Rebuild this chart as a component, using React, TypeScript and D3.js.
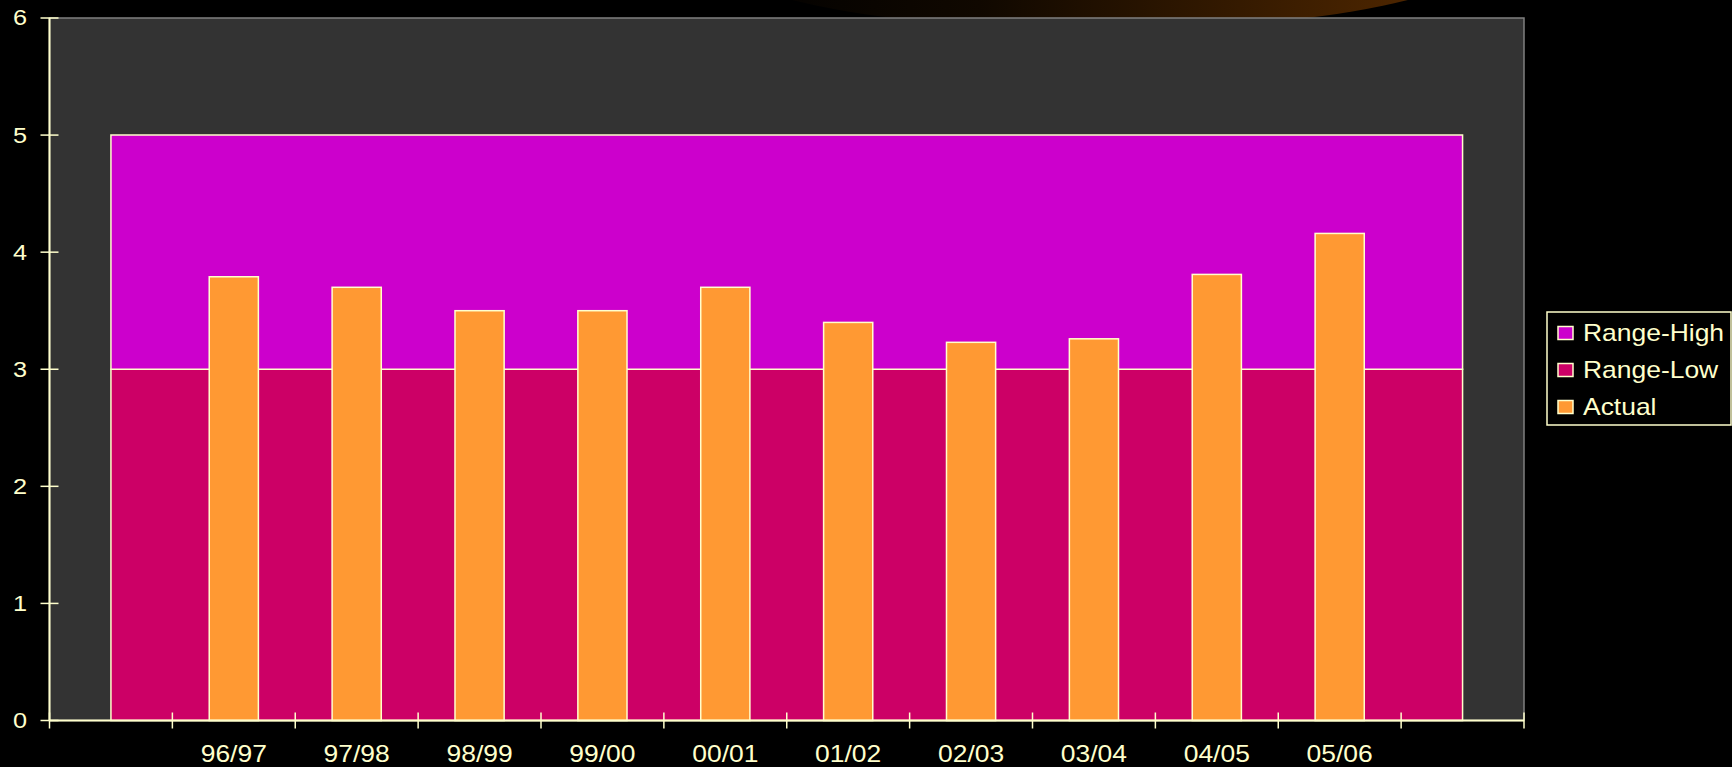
import React from 'react';
import * as d3 from 'd3';

const categories = ['', '96/97', '97/98', '98/99', '99/00', '00/01', '01/02', '02/03', '03/04', '04/05', '05/06', ''];
const rangeLow = [3, 3, 3, 3, 3, 3, 3, 3, 3, 3, 3, 3];
const rangeHigh = [2, 2, 2, 2, 2, 2, 2, 2, 2, 2, 2, 2];
const actual = [null, 3.79, 3.7, 3.5, 3.5, 3.7, 3.4, 3.23, 3.26, 3.81, 4.16, null];
const yTicks = [0, 1, 2, 3, 4, 5, 6];
const legendItems = [
  { name: 'Range-High', color: '#CC00CC' },
  { name: 'Range-Low', color: '#CC0066' },
  { name: 'Actual', color: '#FF9933' },
];

const W = 1732;
const H = 767;
const plot = { left: 49.5, right: 1524, top: 18, bottom: 720.5 };
const ink = '#FFFFCC';
const font = '"Liberation Sans", Arial, sans-serif';
const sx = 1.15; // the source chart is stretched sideways a little

const App: React.FC = () => {
  const x = d3.scaleBand<number>()
    .domain(categories.map((_, i) => i))
    .range([plot.left, plot.right])
    .padding(0);
  const y = d3.scaleLinear().domain([0, 6]).range([plot.bottom, plot.top]);
  const bw = x.bandwidth();
  const cx = (i: number) => (x(i) as number) + bw / 2;

  const rows = categories.map((_, i) => ({ i, low: rangeLow[i], high: rangeHigh[i] }));
  const stacked = d3.stack<{ i: number; low: number; high: number }>().keys(['low', 'high'])(rows);

  const area = d3.area<d3.SeriesPoint<{ i: number; low: number; high: number }>>()
    .x(d => cx(d.data.i))
    .y0(d => y(d[0]))
    .y1(d => y(d[1]));

  const barW = bw / 2.5;

  const stretched = (px: number, py: number) =>
    `translate(${px},${py}) scale(${sx},1) translate(${-px},${-py})`;

  return (
    <svg width={W} height={H} style={{ position: 'absolute', left: 0, top: 0, display: 'block' }}>
      <defs>
        <linearGradient id="glow" x1="0" x2="1" y1="0" y2="0">
          <stop offset="0" stopColor="#000000" />
          <stop offset="0.35" stopColor="#100800" />
          <stop offset="1" stopColor="#5a2c00" />
        </linearGradient>
      </defs>
      <rect x={0} y={0} width={W} height={H} fill="#000" />
      <ellipse cx={1100} cy={-53} rx={400} ry={83} fill="url(#glow)" />

      {/* plot area */}
      <rect x={plot.left} y={plot.top} width={plot.right - plot.left} height={plot.bottom - plot.top}
        fill="#333333" stroke="#808080" strokeWidth={1.5} />

      {/* stacked range areas */}
      {stacked.map((s, k) => (
        <path key={s.key} d={area(s) || ''} fill={k === 0 ? '#CC0066' : '#CC00CC'}
          stroke={ink} strokeWidth={1.5} />
      ))}

      {/* actual bars */}
      {actual.map((v, i) => v == null ? null : (
        <rect key={i} x={cx(i) - barW / 2} y={y(v)} width={barW} height={y(0) - y(v)}
          fill="#FF9933" stroke={ink} strokeWidth={1.5} />
      ))}

      {/* y axis */}
      <line x1={plot.left} x2={plot.left} y1={plot.top} y2={plot.bottom} stroke={ink} strokeWidth={2} />
      {yTicks.map(t => (
        <g key={t}>
          <line x1={plot.left - 9} x2={plot.left + 9} y1={y(t)} y2={y(t)} stroke={ink} strokeWidth={1.5} />
          <text x={27} y={y(t) + 7.5} textAnchor="end" fill={ink} fontFamily={font} fontSize={22}
            transform={stretched(27, y(t))}>{t}</text>
        </g>
      ))}

      {/* x axis */}
      <line x1={plot.left} x2={plot.right} y1={plot.bottom} y2={plot.bottom} stroke={ink} strokeWidth={2} />
      {categories.map((_, i) => (
        <line key={i} x1={x(i) as number} x2={x(i) as number} y1={plot.bottom - 8} y2={plot.bottom + 8}
          stroke={ink} strokeWidth={1.5} />
      ))}
      <line x1={plot.right} x2={plot.right} y1={plot.bottom - 8} y2={plot.bottom + 8} stroke={ink} strokeWidth={1.5} />
      {categories.map((c, i) => c ? (
        <text key={i} x={cx(i)} y={762} textAnchor="middle" fill={ink} fontFamily={font} fontSize={23}
          transform={stretched(cx(i), 762)}>{c}</text>
      ) : null)}

      {/* legend */}
      <rect x={1547} y={312} width={184} height={113} fill="#000" stroke={ink} strokeWidth={1.5} />
      {legendItems.map((it, k) => {
        const ly = 333 + k * 37;
        return (
          <g key={it.name}>
            <rect x={1558} y={ly - 6.5} width={15} height={13} fill={it.color} stroke={ink} strokeWidth={1.5} />
            <text x={1583} y={ly + 8} fill={ink} fontFamily={font} fontSize={23}
              transform={stretched(1583, ly)}>{it.name}</text>
          </g>
        );
      })}
    </svg>
  );
};

export default App;
